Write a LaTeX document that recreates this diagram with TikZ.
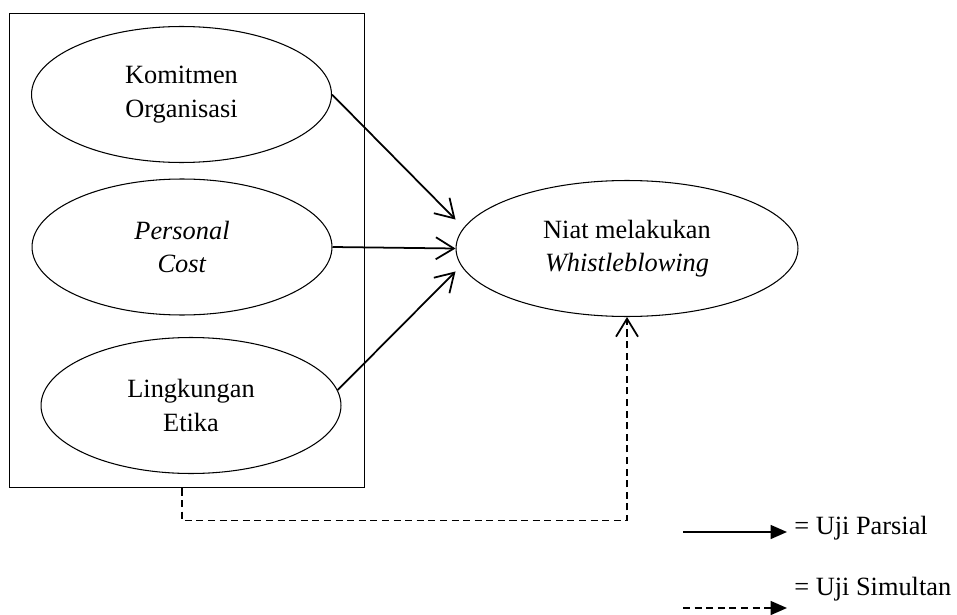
\documentclass[tikz,border=0pt]{standalone}
\usepackage{fontspec}
\setmainfont{Liberation Serif}
\usepackage{tikz}
\usetikzlibrary{shapes.geometric, arrows.meta, positioning, calc}

\begin{document}
\begin{tikzpicture}[
    x=0.02cm, y=-0.02cm,
    font=\fontsize{15}{19}\selectfont,
    var/.style={ellipse, draw, line width=0.6pt, inner sep=0pt, align=center,
                minimum width=6cm, minimum height=2.72cm},
    partial/.style={line width=1pt, -{Straight Barb[length=3.6mm, width=4.4mm, line width=1pt]}},
    simul/.style={line width=1pt, dash pattern=on 4pt off 2.6pt,
                  -{Straight Barb[length=3.6mm, width=4.4mm, line width=1pt]}},
    legendline/.style={line width=1pt, -{Triangle[length=3.3mm, width=2.8mm]}}
]
    \useasboundingbox (0,0) rectangle (957,615);
    % group of independent variables
    \node[draw, line width=0.6pt, minimum width=7.12cm, minimum height=9.5cm] (box) at (187,250.5) {};
    \node[var] (komitmen) at (181.5,94.5) {Komitmen\\Organisasi};
    \node[var] (personal) at (182,247) {\textit{Personal}\\\textit{Cost}};
    \node[var] (etika) at (191,405.5) {Lingkungan\\Etika};
    % dependent variable
    \node[var, minimum width=6.84cm] (niat) at (627,248.5) {Niat melakukan\\\textit{Whistleblowing}};

    % partial tests
    \draw[partial] (komitmen.east) -- ([yshift=0.58cm]niat.west);
    \draw[partial] (personal.east) -- (niat.west);
    \draw[partial] (etika.6) -- ([yshift=-0.46cm]niat.west);
    % simultaneous test
    \draw[simul] ([xshift=-0.1cm]box.south) -- ++(0,-0.64cm) -| (niat.south);

    % legend
    \coordinate (parsialA) at (683,532);
    \coordinate (parsialB) at (787,532);
    \coordinate (simulA) at (683,608);
    \coordinate (simulB) at (787,608);
    \draw[legendline] (parsialA) -- (parsialB);
    \draw[legendline, dash pattern=on 4pt off 2.6pt] (simulA) -- (simulB);
    \node[anchor=west, inner sep=0pt] (parsial) at (794,528) {= Uji Parsial};
    \node[anchor=west, inner sep=0pt] (simultan) at (794,589) {= Uji Simultan};
\end{tikzpicture}
\end{document}
